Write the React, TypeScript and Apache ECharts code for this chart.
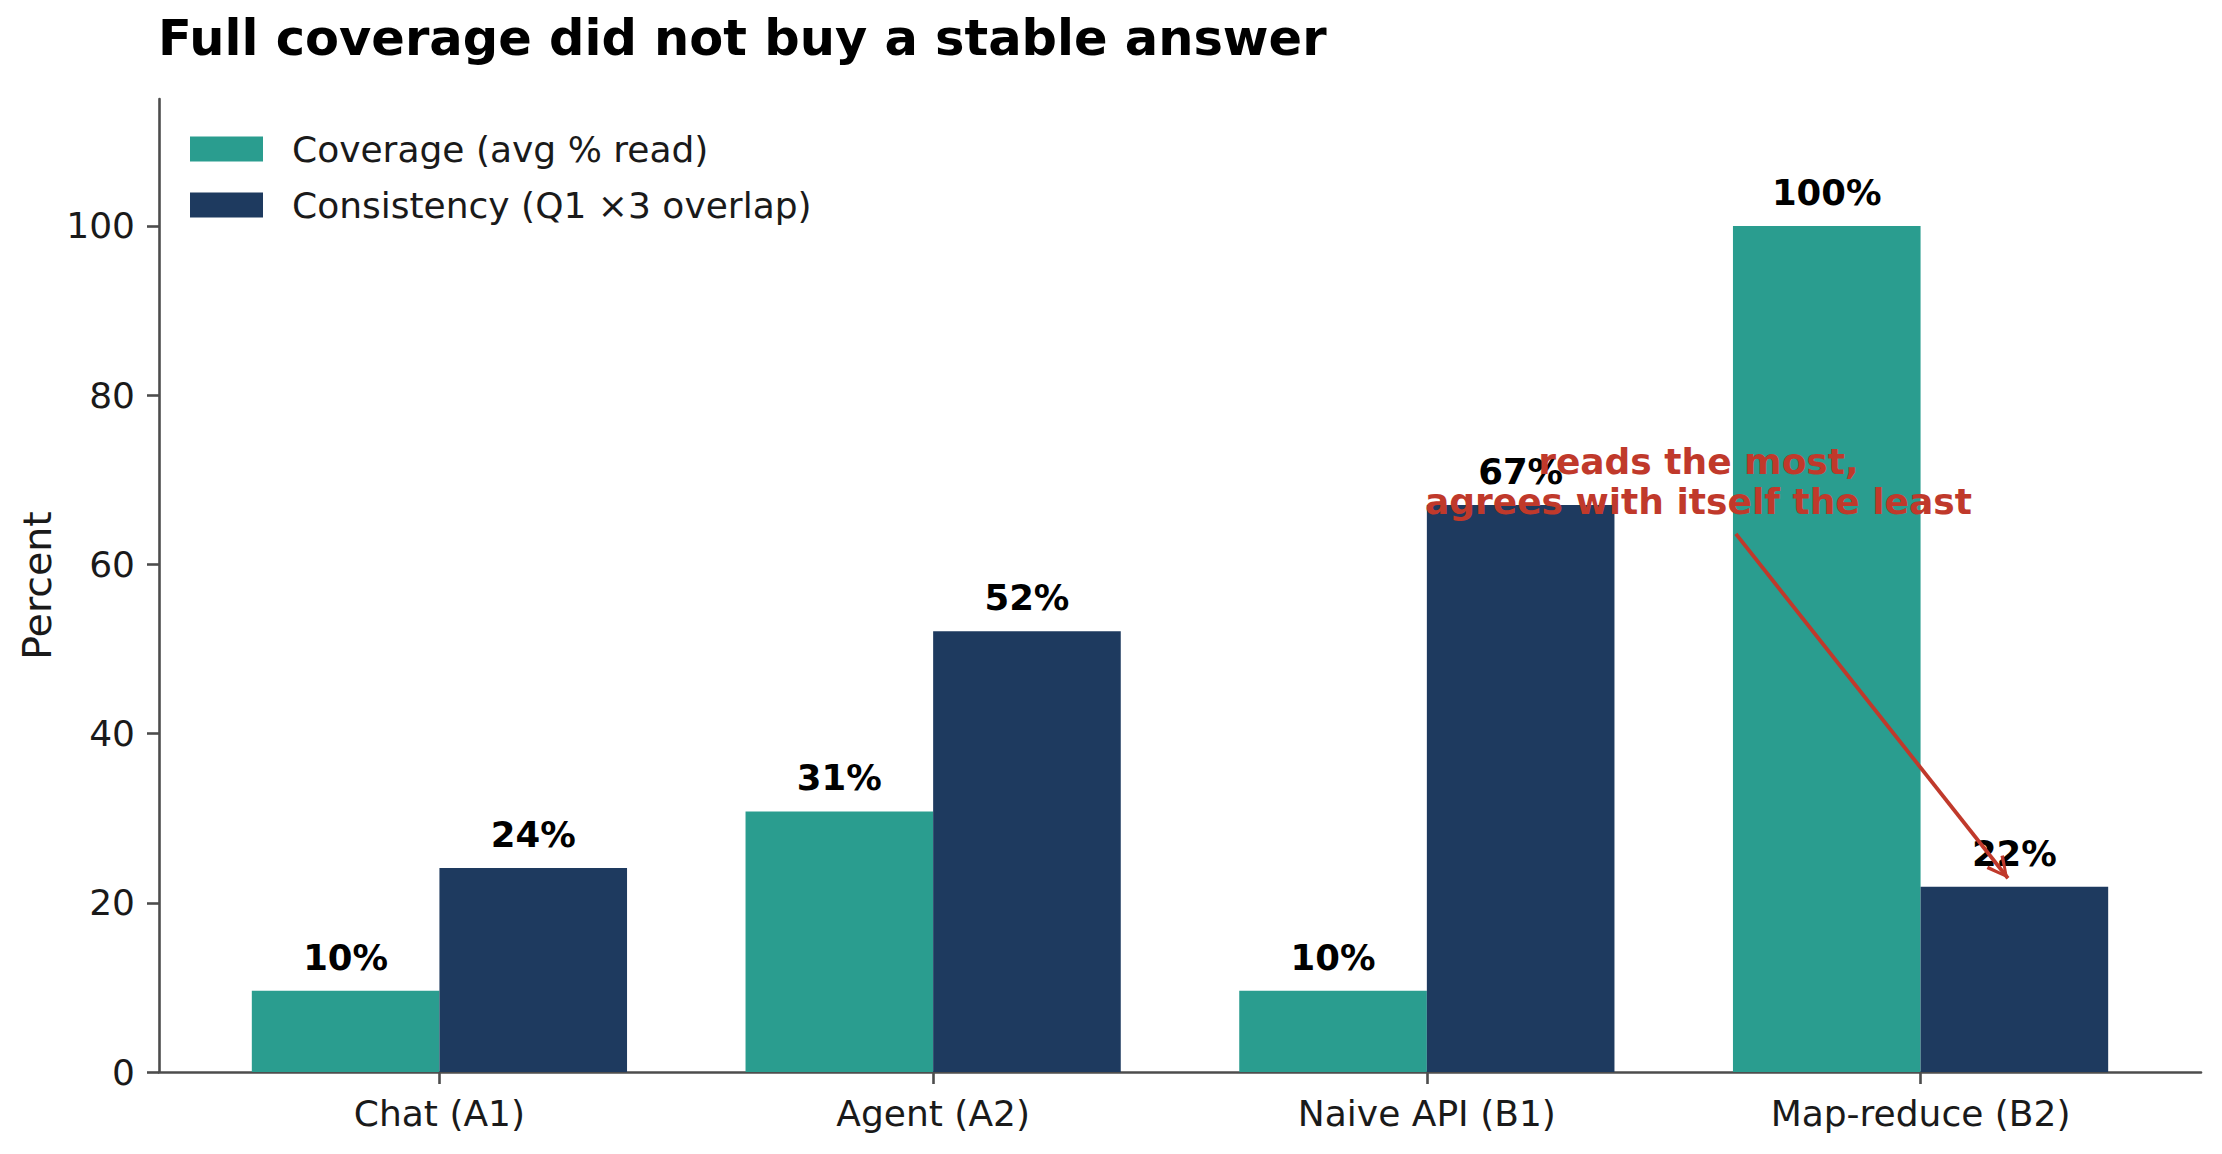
import React, { useEffect, useRef } from 'react';
import * as echarts from 'echarts';

const categories = ['Chat (A1)', 'Agent (A2)', 'Naive API (B1)', 'Map-reduce (B2)'];
const xPositions = [0, 1, 2, 3];
const coverage = [9.6, 30.8, 9.6, 100];
const consistency = [24.1, 52.1, 67.0, 21.9];
const yTicks = [0, 20, 40, 60, 80, 100];
const seriesNames = ['Coverage (avg % read)', 'Consistency (Q1 \u00d73 overlap)'];
const annotationLines = ['reads the most,', 'agrees with itself the least'];
const annotationAt = [2.55, 69.8];
const arrowFrom = [2.626, 63.6];
const arrowTo = [3.177, 22.9];

const FONT = 'DejaVu Sans';
const TEAL = '#2a9d8f';
const NAVY = '#1e3a5f';
const RED = '#c0392b';
const AXIS = '#4d4d4d';
const TEXT = '#1a1a1a';

const CHEVRON =
  'path://M50,-59 L50.01,-59 L50.01,-58.99 Z M50,0 L78,56 L70,60 L50,16 L30,60 L22,56 Z';

export default function App() {
  const ref = useRef<HTMLDivElement>(null);

  useEffect(() => {
    if (!ref.current) return;
    const chart = echarts.init(ref.current, undefined, { renderer: 'svg' });

    const valueLabel = {
      show: true,
      position: 'top',
      distance: 16,
      formatter: (p: any) => Math.round(p.value[1]) + '%',
      fontSize: 35.5,
      lineHeight: 35,
      fontWeight: 'bold',
      color: '#000',
      fontFamily: FONT,
    };

    const option: any = {
      animation: false,
      backgroundColor: '#ffffff',
      textStyle: { fontFamily: FONT },
      title: {
        text: 'Full coverage did not buy a stable answer',
        left: 158,
        top: 13,
        padding: 0,
        textStyle: {
          fontSize: 49.5,
          lineHeight: 49,
          fontWeight: 'bold',
          color: '#000',
          fontFamily: FONT,
        },
      },
      legend: {
        orient: 'vertical',
        left: 190,
        top: 131,
        padding: 0,
        itemWidth: 73,
        itemHeight: 25,
        itemGap: 20,
        icon: 'rect',
        selectedMode: false,
        data: seriesNames,
        textStyle: {
          fontSize: 36,
          lineHeight: 35,
          color: TEXT,
          fontFamily: FONT,
          padding: [0, 0, 0, 24],
        },
      },
      grid: {
        left: 159,
        right: 21,
        top: 99,
        bottom: 82,
        containLabel: false,
        outerBoundsMode: 'none',
      },
      xAxis: {
        type: 'value',
        min: -0.568,
        max: 3.568,
        splitLine: { show: false },
        axisLine: { show: true, onZero: false, lineStyle: { color: AXIS, width: 2.6 } },
        axisTick: {
          show: true,
          length: 12,
          customValues: xPositions,
          lineStyle: { color: AXIS, width: 2.6 },
        },
        axisLabel: {
          customValues: xPositions,
          formatter: (v: number) => categories[Math.round(v)] ?? '',
          fontSize: 36,
          lineHeight: 35,
          color: TEXT,
          margin: 24,
          fontFamily: FONT,
        },
      },
      yAxis: {
        type: 'value',
        min: 0,
        max: 115,
        name: 'Percent',
        nameLocation: 'middle',
        nameGap: 102,
        nameMoveOverlap: false,
        nameTextStyle: { fontSize: 39.5, color: TEXT, fontFamily: FONT },
        splitLine: { show: false },
        axisLine: { show: true, onZero: false, lineStyle: { color: AXIS, width: 2.6 } },
        axisTick: {
          show: true,
          length: 12,
          customValues: yTicks,
          lineStyle: { color: AXIS, width: 2.6 },
        },
        axisLabel: {
          customValues: yTicks,
          fontSize: 36,
          color: TEXT,
          margin: 24,
          fontFamily: FONT,
        },
      },
      series: [
        {
          name: seriesNames[0],
          type: 'bar',
          data: coverage.map((v, i) => [xPositions[i], v]),
          barWidth: '38%',
          barGap: '0%',
          itemStyle: { color: TEAL },
          label: valueLabel,
        },
        {
          name: seriesNames[1],
          type: 'bar',
          data: consistency.map((v, i) => [xPositions[i], v]),
          barWidth: '38%',
          barGap: '0%',
          itemStyle: { color: NAVY },
          label: valueLabel,
        },
        {
          name: 'annotation',
          type: 'scatter',
          data: [],
          silent: true,
          z: 10,
          markLine: {
            silent: true,
            z: 10,
            symbol: ['none', CHEVRON],
            symbolSize: [22, 44],
            label: { show: false },
            lineStyle: { color: RED, width: 3.8, type: 'solid' },
            data: [[{ coord: arrowFrom }, { coord: arrowTo }]],
          },
          markPoint: {
            silent: true,
            z: 11,
            symbol: 'circle',
            symbolSize: 0,
            itemStyle: { color: 'rgba(0,0,0,0)' },
            label: {
              show: true,
              position: 'inside',
              formatter: annotationLines.join('\n'),
              fontSize: 36,
              lineHeight: 40,
              fontWeight: 'bold',
              color: RED,
              align: 'center',
              verticalAlign: 'middle',
              fontFamily: FONT,
            },
            data: [{ coord: annotationAt }],
          },
        },
      ],
    };

    chart.setOption(option);
    return () => chart.dispose();
  }, []);

  return (
    <div
      ref={ref}
      style={{ position: 'fixed', left: 0, top: 0, width: 2222, height: 1154, background: '#fff' }}
    />
  );
}
